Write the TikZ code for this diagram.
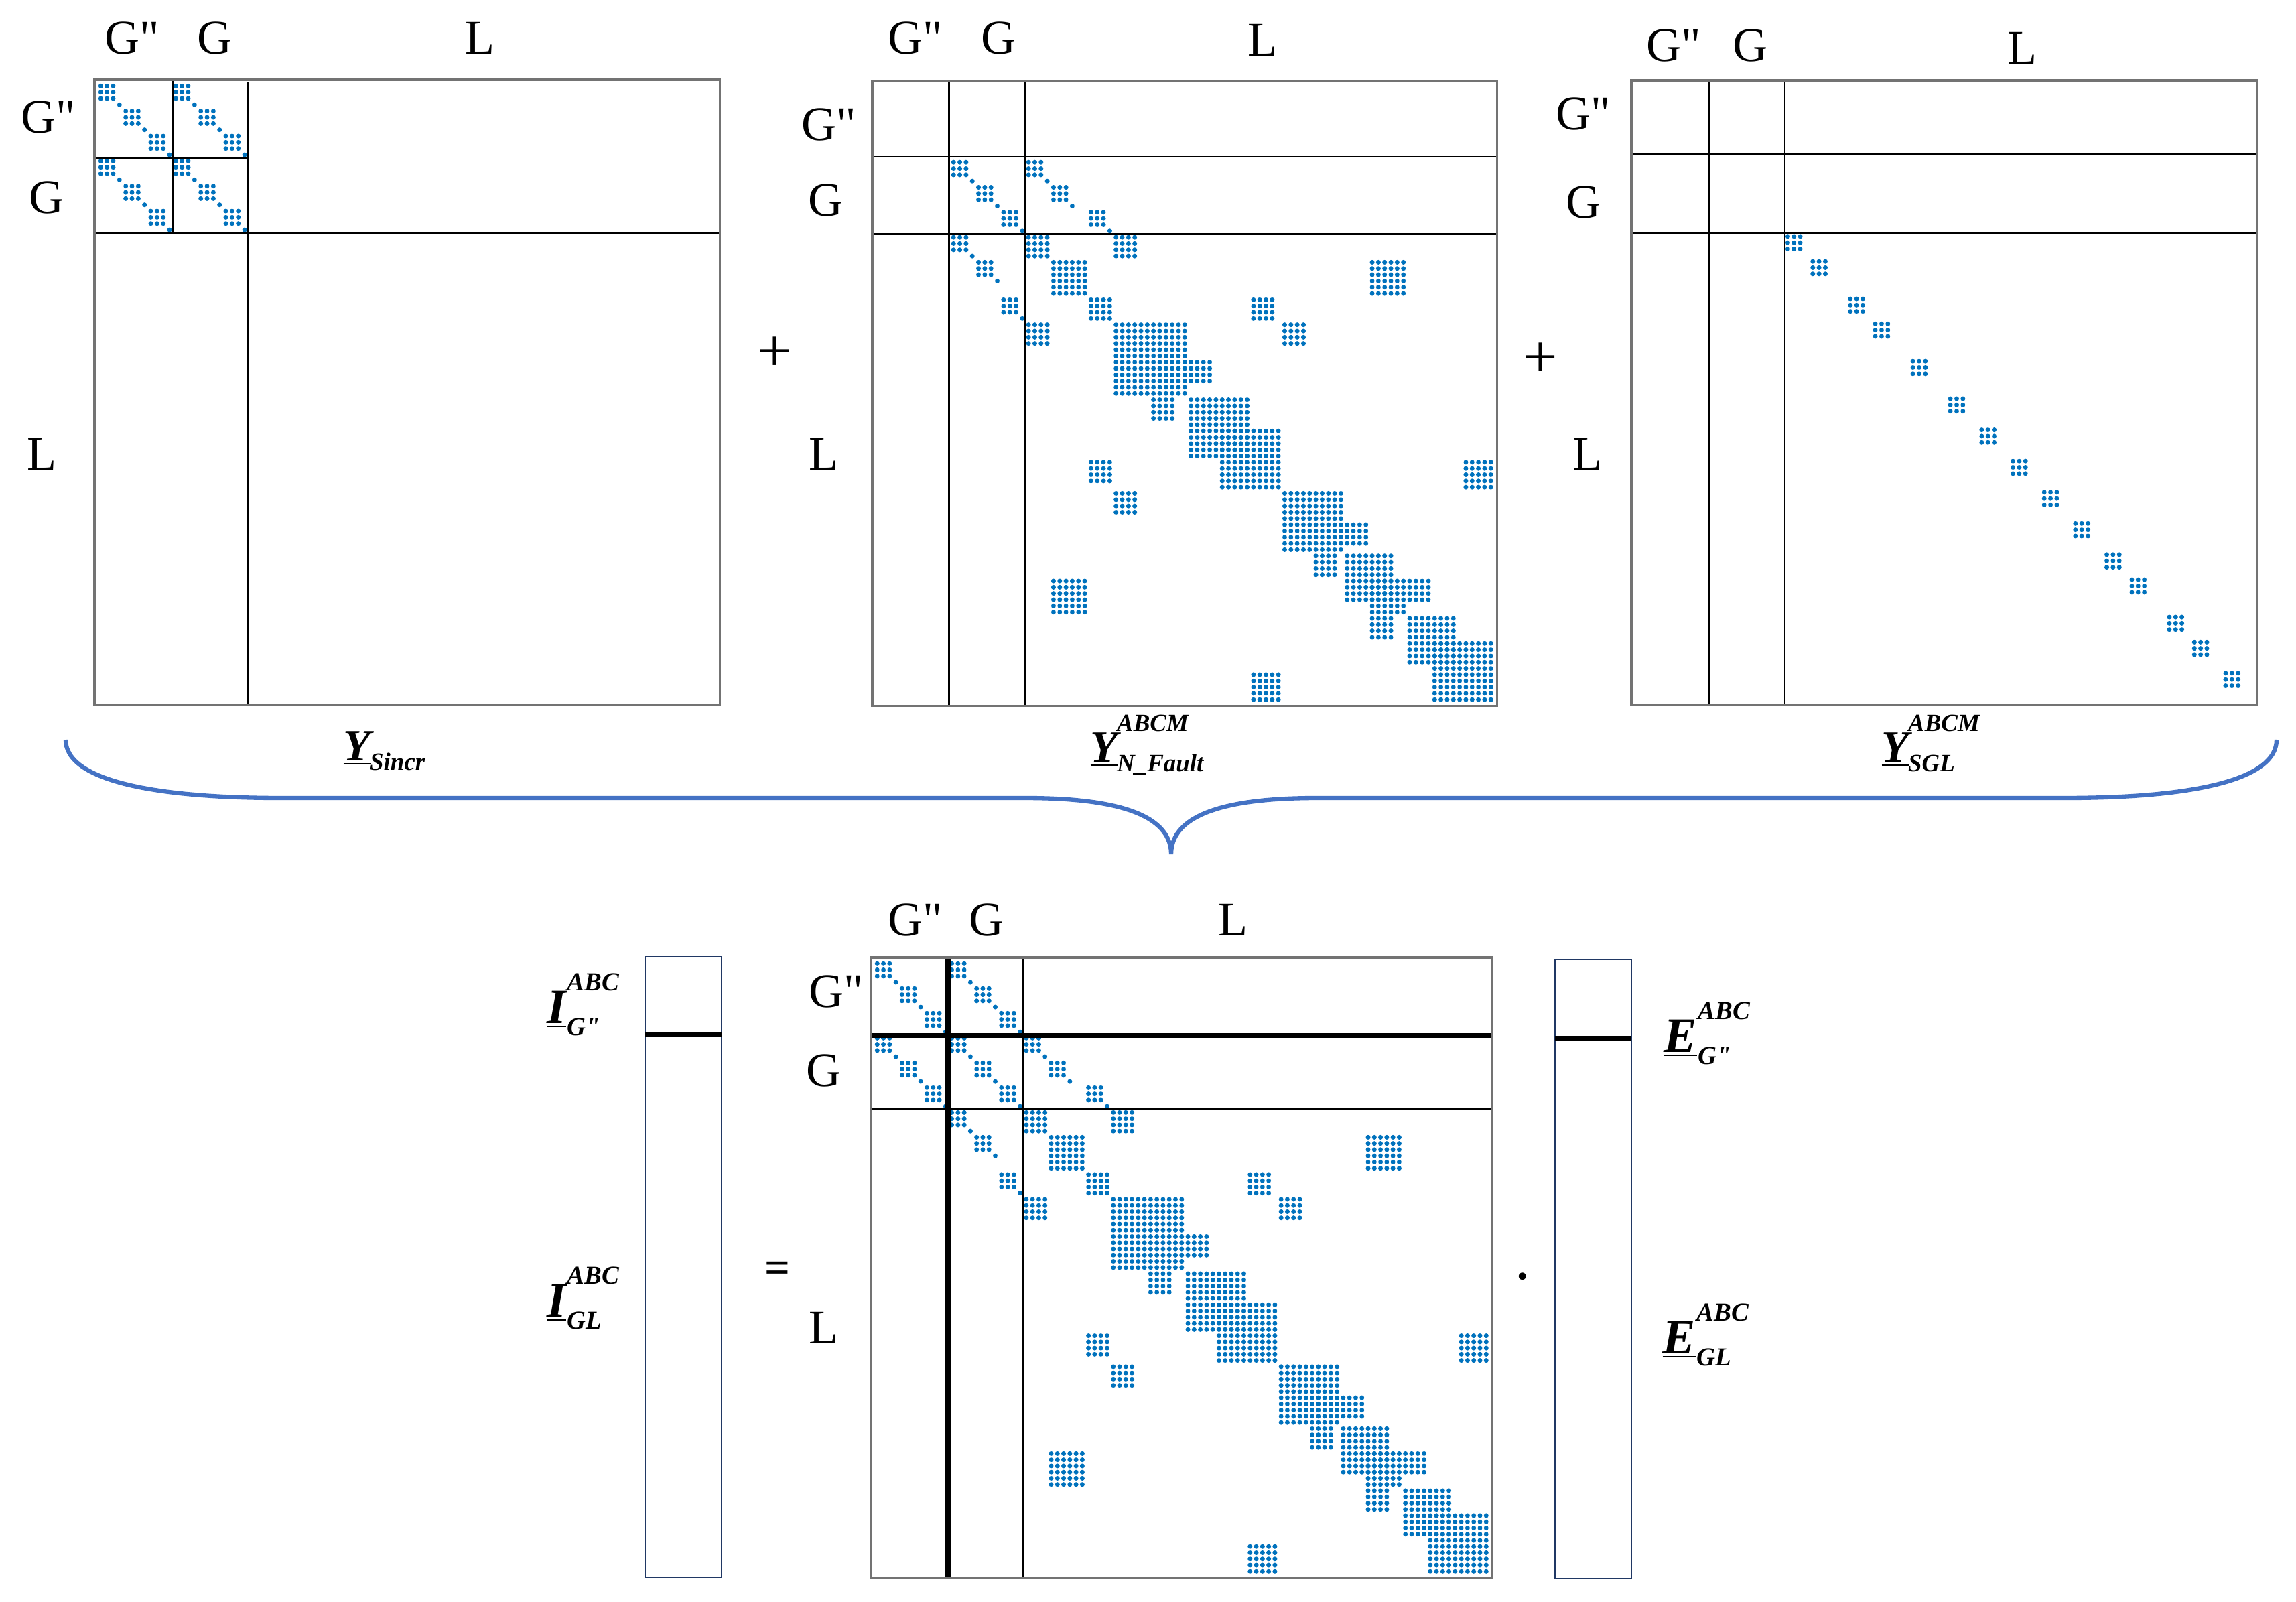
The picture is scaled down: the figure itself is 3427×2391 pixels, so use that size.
\documentclass[tikz,border=0pt]{standalone}
\usepackage{fontspec}
\setmainfont{Liberation Serif}[Ligatures=TeXOff]

\definecolor{spyblue}{RGB}{0,114,189}
\definecolor{bracecol}{RGB}{68,114,196}
\definecolor{vecnavy}{RGB}{32,56,100}
\definecolor{framegray}{RGB}{115,115,115}

\tikzset{
	spydot/.style={fill=spyblue},
	mxframe/.style={draw=framegray, line width=0.9pt},
	sepline/.style={draw=black, line width=0.7pt},
	septhick/.style={draw=black, line width=2.1pt},
	blocklab/.style={font=\fontsize{20.5}{24}\selectfont, inner sep=0pt},
	mxlab/.style={font=\fontsize{19}{22}\selectfont\bfseries\itshape, inner sep=0pt},
	veclab/.style={font=\fontsize{21}{24}\selectfont\bfseries\itshape, inner sep=0pt},
	vecbox/.style={draw=vecnavy, line width=0.7pt},
	opsign/.style={font=\fontsize{26}{28}\selectfont, inner sep=0pt},
}

% one block of nonzeros: rows #1-#2, columns #3-#4
\newcommand{\blk}[4]{\fill[spydot] \foreach \r in {#1,...,#2}{\foreach \c in {#3,...,#4}{(\c,\r) circle (0.035cm)}};}

% 12x12 generator block, shifted by #1 rows and #2 columns
\newcommand{\gpat}[2]{%
	\begin{scope}[shift={(#2,#1)}]
		\blk{1}{3}{1}{3} \blk{4}{4}{4}{4}
		\blk{5}{7}{5}{7} \blk{8}{8}{8}{8}
		\blk{9}{11}{9}{11} \blk{12}{12}{12}{12}
	\end{scope}}

% generator - line couplings
\newcommand{\glpat}{%
	\blk{13}{15}{25}{27} \blk{16}{16}{28}{28}
	\blk{17}{19}{29}{31} \blk{20}{20}{32}{32}
	\blk{21}{23}{35}{37} \blk{24}{24}{38}{38}
	\blk{25}{27}{13}{15} \blk{28}{28}{16}{16}
	\blk{29}{31}{17}{19} \blk{32}{32}{20}{20}
	\blk{35}{37}{21}{23} \blk{38}{38}{24}{24}}

% line network
\newcommand{\llpat}{%
	\blk{25}{28}{25}{28} \blk{29}{34}{29}{34} \blk{35}{38}{35}{38}
	\blk{39}{50}{39}{50} \blk{51}{60}{51}{60} \blk{56}{65}{56}{65}
	\blk{66}{75}{66}{75} \blk{76}{83}{76}{83} \blk{80}{85}{80}{85}
	\blk{86}{93}{86}{93} \blk{90}{99}{90}{99}
	\blk{45}{48}{51}{54} \blk{51}{54}{45}{48}
	\blk{71}{74}{76}{79} \blk{76}{79}{71}{74}
	\blk{80}{83}{86}{89} \blk{86}{89}{80}{83}
	\blk{25}{28}{39}{42} \blk{39}{42}{25}{28}
	\blk{29}{34}{80}{85} \blk{80}{85}{29}{34}
	\blk{35}{38}{61}{64} \blk{61}{64}{35}{38}
	\blk{39}{42}{66}{69} \blk{66}{69}{39}{42}
	\blk{61}{65}{95}{99} \blk{95}{99}{61}{65}}

% grounding blocks
\newcommand{\sglpat}{%
	\foreach \s in {25,29,35,39,45,51,56,61,66,71,76,80,86,90,95}{%
		\pgfmathtruncatemacro{\sEnd}{\s+2}\blk{\s}{\sEnd}{\s}{\sEnd}}}

\newcommand{\mxscript}{\fontsize{10.5}{12}\selectfont}
\newcommand{\vecscript}{\fontsize{11}{12}\selectfont}
\newcommand{\mxsym}[3]{\underline{#1}\kern-0.02em\rlap{\raisebox{0.68em}{\mxscript #2}}\raisebox{-0.22em}{\mxscript #3}}
\newcommand{\vecsym}[3]{\underline{#1}\kern0.02em\rlap{\raisebox{0.66em}{\vecscript #2}}\raisebox{-0.25em}{\vecscript #3}}

\begin{document}
\begin{tikzpicture}[x=0.01cm, y=-0.01cm]
	\useasboundingbox (0,0) rectangle (3427,2391);
	\fill[white] (0,0) rectangle (3427,2391);

	% Y_Sincr
	\begin{scope}[shift={(141,119)}, x=0.0933cm, y=-0.0933cm]
		\gpat{0}{0} \gpat{0}{12} \gpat{12}{0} \gpat{12}{12}
		\draw[sepline] (12.5,0) -- (12.5,24.5);
		\draw[sepline] (24.5,0.4) -- (24.5,100);
		\draw[sepline] (0,12.5) -- (24.5,12.5);
		\draw[sepline] (0,24.5) -- (100,24.5);
		\draw[mxframe] (0,0) rectangle (100,100);
	\end{scope}

	% Y_N_Fault
	\begin{scope}[shift={(1302,121)}, x=0.0932cm, y=-0.0932cm]
		\gpat{12}{12} \glpat \llpat
		\draw[sepline] (12.3,0) -- (12.3,100);
		\draw[sepline] (24.5,0) -- (24.5,100);
		\draw[sepline] (0,12.1) -- (100,12.1);
		\draw[sepline] (0,24.5) -- (100,24.5);
		\draw[mxframe] (0,0) rectangle (100,100);
	\end{scope}

	% Y_SGL
	\begin{scope}[shift={(2435,120)}, x=0.0933cm, y=-0.0931cm]
		\sglpat
		\draw[sepline] (12.4,0) -- (12.4,100);
		\draw[sepline] (24.5,0) -- (24.5,100);
		\draw[sepline] (0,11.8) -- (100,11.8);
		\draw[sepline] (0,24.4) -- (100,24.4);
		\draw[mxframe] (0,0) rectangle (100,100);
	\end{scope}

	% full matrix
	\begin{scope}[shift={(1300,1429)}, x=0.0927cm, y=-0.0925cm]
		\gpat{0}{0} \gpat{0}{12} \gpat{12}{0} \gpat{12}{12}
		\glpat \llpat
		\draw[sepline] (24.5,0) -- (24.5,100);
		\draw[sepline] (0,24.4) -- (100,24.4);
		\draw[septhick] (12.4,0) -- (12.4,100);
		\draw[septhick] (0,12.6) -- (100,12.6);
		\draw[mxframe] (0,0) rectangle (100,100);
	\end{scope}

	% block labels
	\node[blocklab] (sincrColGpp) at (197,57) {G"};
	\node[blocklab] (sincrColG) at (321,57) {G};
	\node[blocklab] (sincrColL) at (717,57) {L};
	\node[blocklab] (sincrRowGpp) at (72,175) {G"};
	\node[blocklab] (sincrRowG) at (70,295) {G};
	\node[blocklab] (sincrRowL) at (63,678) {L};

	\node[blocklab] (faultColGpp) at (1366,57) {G"};
	\node[blocklab] (faultColG) at (1491,57) {G};
	\node[blocklab] (faultColL) at (1884,60) {L};
	\node[blocklab] (faultRowGpp) at (1237,186) {G"};
	\node[blocklab] (faultRowG) at (1233,299) {G};
	\node[blocklab] (faultRowL) at (1230,678) {L};

	\node[blocklab] (sglColGpp) at (2498,68) {G"};
	\node[blocklab] (sglColG) at (2612,68) {G};
	\node[blocklab] (sglColL) at (3018,72) {L};
	\node[blocklab] (sglRowGpp) at (2363,170) {G"};
	\node[blocklab] (sglRowG) at (2363,302) {G};
	\node[blocklab] (sglRowL) at (2369,678) {L};

	\node[blocklab] (fullColGpp) at (1366,1373) {G"};
	\node[blocklab] (fullColG) at (1473,1373) {G};
	\node[blocklab] (fullColL) at (1840,1373) {L};
	\node[blocklab] (fullRowGpp) at (1248,1480) {G"};
	\node[blocklab] (fullRowG) at (1230,1598) {G};
	\node[blocklab] (fullRowL) at (1230,1982) {L};

	% matrix names
	\node[mxlab, anchor=base west] (ySincr) at (512,1135) {\mxsym{Y}{}{Sincr}};
	\node[mxlab, anchor=base west] (yFault) at (1627,1137) {\mxsym{Y}{ABCM}{N\_Fault}};
	\node[mxlab, anchor=base west] (ySgl) at (2808,1137) {\mxsym{Y}{ABCM}{SGL}};

	% signs
	\node[opsign] (plusA) at (1156,529) {+};
	\node[opsign] (plusB) at (2299,538) {+};
	\node[opsign, font=\fontsize{19}{22}\selectfont\bfseries] (eqSign) at (1161,1899) {=};
	\node[opsign] (dotSign) at (2273,1918) {\textperiodcentered};

	% brace
	\draw[bracecol, line width=1.8pt] (98,1104) .. controls (98,1165) and (230,1191) .. (420,1191)
		-- (1530,1191) .. controls (1690,1191) and (1748,1225) .. (1748,1275)
		.. controls (1748,1225) and (1806,1191) .. (1966,1191)
		-- (3080,1191) .. controls (3270,1191) and (3398,1165) .. (3398,1104);

	% current vector
	\draw[vecbox] (963,1428) rectangle (1077,2354);
	\draw[septhick] (963,1544) -- (1077,1544);
	\node[veclab, anchor=base west] (iGpp) at (816,1527) {\vecsym{I}{ABC}{G"}};
	\node[veclab, anchor=base west] (iGL) at (816,1965) {\vecsym{I}{ABC}{GL}};

	% voltage vector
	\draw[vecbox] (2321,1432) rectangle (2435,2356);
	\draw[septhick] (2321,1550) -- (2435,1550);
	\node[veclab, anchor=base west] (eGpp) at (2483,1570) {\vecsym{E}{ABC}{G"}};
	\node[veclab, anchor=base west] (eGL) at (2481,2020) {\vecsym{E}{ABC}{GL}};

\end{tikzpicture}
\end{document}
